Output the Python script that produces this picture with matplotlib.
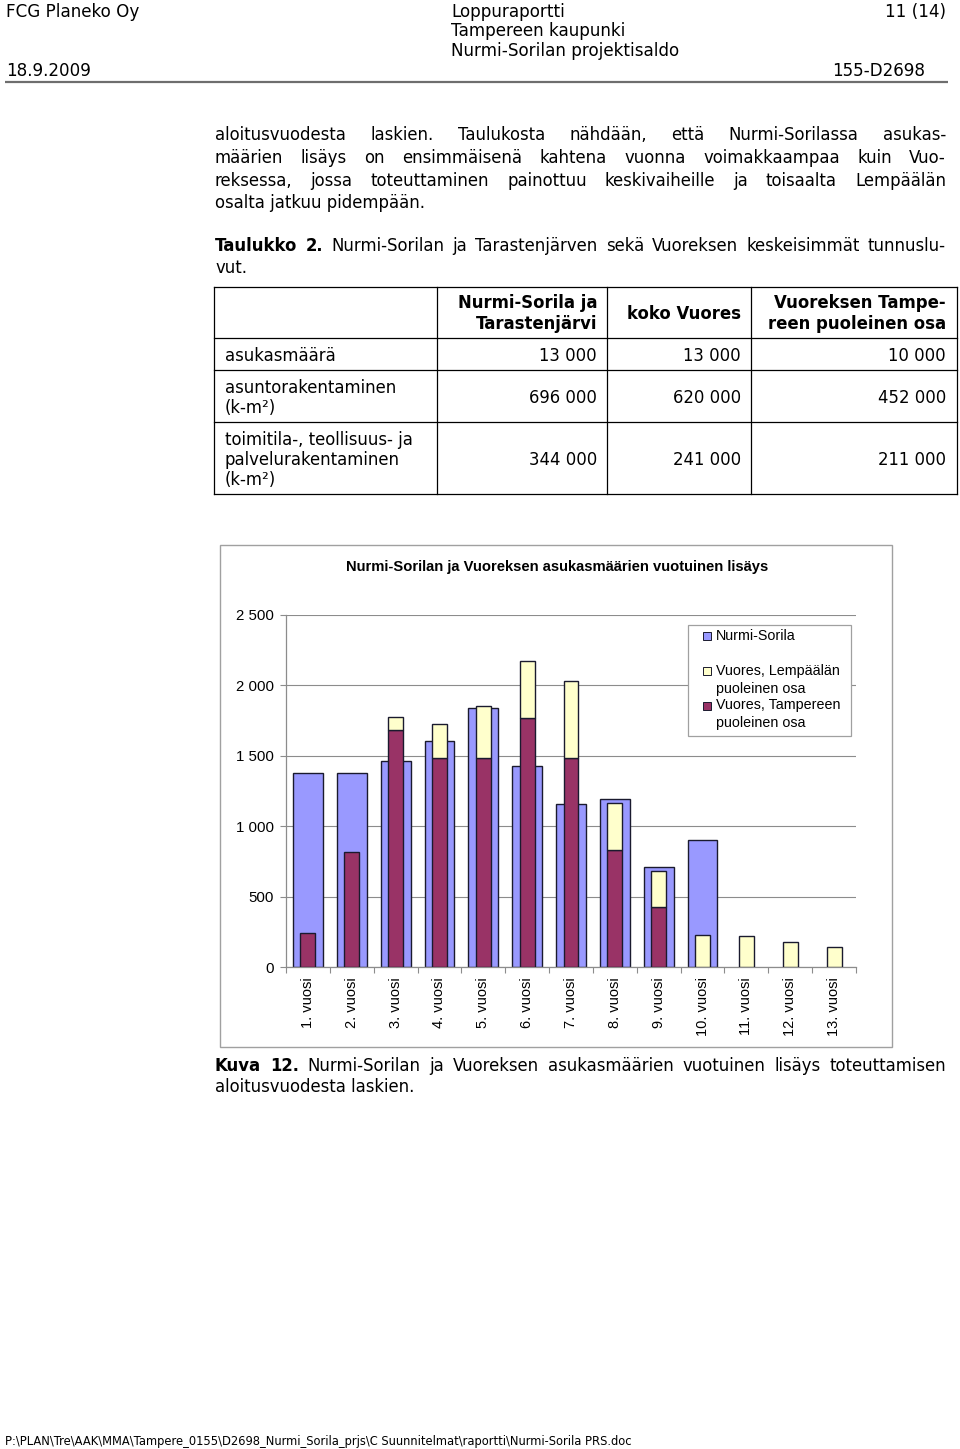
import matplotlib
matplotlib.use('Agg')
import matplotlib.pyplot as plt
import numpy as np
from matplotlib.patches import Rectangle
from matplotlib.ticker import FuncFormatter

# ---------------- data ----------------
years = ["1. vuosi", "2. vuosi", "3. vuosi", "4. vuosi", "5. vuosi", "6. vuosi", "7. vuosi",
         "8. vuosi", "9. vuosi", "10. vuosi", "11. vuosi", "12. vuosi", "13. vuosi"]
nurmi_sorila = [1375, 1375, 1460, 1605, 1835, 1425, 1160, 1195, 710, 900, 0, 0, 0]
vuores_tampere = [245, 820, 1680, 1485, 1485, 1770, 1485, 835, 425, 0, 0, 0, 0]
vuores_lempaala = [0, 0, 95, 240, 370, 400, 545, 330, 258, 230, 222, 182, 142]
series_labels = ["Nurmi-Sorila", "Vuores, Lempäälän\npuoleinen osa", "Vuores, Tampereen\npuoleinen osa"]
yticks = [0, 500, 1000, 1500, 2000, 2500]
chart_title = "Nurmi-Sorilan ja Vuoreksen asukasmäärien vuotuinen lisäys"

table_cols = ["Nurmi-Sorila ja\nTarastenjärvi", "koko Vuores", "Vuoreksen Tampe-\nreen puoleinen osa"]
table_rows = ["asukasmäärä", "asuntorakentaminen\n(k-m²)", "toimitila-, teollisuus- ja\npalvelurakentaminen\n(k-m²)"]
col_nurmi = ["13 000", "696 000", "344 000"]
col_vuores = ["13 000", "620 000", "241 000"]
col_vuores_tre = ["10 000", "452 000", "211 000"]

body_lines = [
    "aloitusvuodesta laskien. Taulukosta nähdään, että Nurmi-Sorilassa asukas-",
    "määrien lisäys on ensimmäisenä kahtena vuonna voimakkaampaa kuin Vuo-",
    "reksessa, jossa toteuttaminen painottuu keskivaiheille ja toisaalta Lempäälän",
    "osalta jatkuu pidempään.",
]

BLUE = "#9999FF"
MAROON = "#993366"
YELLOW = "#FFFFCC"
EDGE = "#1a1a2e"
GRID = "#8c8c8c"

W, H = 960, 1449
fig = plt.figure(figsize=(W / 100, H / 100), dpi=100)
page = fig.add_axes([0, 0, 1, 1])
page.set_xlim(0, W)
page.set_ylim(H, 0)
page.axis('off')
renderer = fig.canvas.get_renderer()

BODY = 11.9
FAM = "DejaVu Sans"
CH = "Liberation Sans"


def txt(x, y, s, size=BODY, weight='normal', ha='left', va='baseline', family=FAM, ax=None, **kw):
    a = page if ax is None else ax
    return a.text(x, y, s, fontsize=size, fontweight=weight, ha=ha, va=va, family=family, **kw)


def wid(t):
    return t.get_window_extent(renderer).width


def fit_size(s, target, weight='normal', family=FAM):
    t = page.text(0, 0, s, fontsize=10, fontweight=weight, family=family)
    w = wid(t)
    t.remove()
    return 10 * target / w


def justify(words, y, x0=215, x1=946, size=BODY):
    arts = [txt(0, y, w, size=size, weight=wt) for w, wt in words]
    ws = [wid(a) for a in arts]
    gap = (x1 - x0 - sum(ws)) / (len(arts) - 1)
    x = x0
    for a, w in zip(arts, ws):
        a.set_x(x)
        x += w + gap


# ---------------- header ----------------
hs = fit_size("Nurmi-Sorilan projektisaldo", 229)
txt(6, 17, "FCG Planeko Oy", size=hs)
txt(451, 17, "Loppuraportti", size=hs)
txt(451, 36.5, "Tampereen kaupunki", size=hs)
txt(451, 56, "Nurmi-Sorilan projektisaldo", size=hs)
txt(946, 17, "11 (14)", size=hs, ha='right')
txt(6, 76.5, "18.9.2009", size=hs)
txt(925, 76.5, "155-D2698", size=hs, ha='right')
page.plot([5, 948], [81.5, 81.5], color="#6e6e6e", lw=1.6, solid_capstyle='butt')

# ---------------- body text ----------------
base = [140.5, 163, 185.5]
for ln, y in zip(body_lines[:3], base):
    justify([(w, 'normal') for w in ln.split(' ')], y)
txt(215, 208, body_lines[3])

justify([("Taulukko", 'bold'), ("2.", 'bold')] +
        [(w, 'normal') for w in "Nurmi-Sorilan ja Tarastenjärven sekä Vuoreksen keskeisimmät tunnuslu-".split(' ')],
        251)
txt(215, 273, "vut.")

# ---------------- table ----------------
tx0, tx1 = 214, 957
ty = [287, 338, 370, 422, 494]
cx = [214, 437, 607, 751, 957]
lc = 'black'
for y in ty:
    page.plot([tx0, tx1], [y, y], color=lc, lw=0.9)
for x in cx:
    page.plot([x, x], [ty[0], ty[-1]], color=lc, lw=0.9)

rights = [597, 741, 946]
for r, head in zip(rights, table_cols):
    lines = head.split('\n')
    if len(lines) == 2:
        txt(r, 308, lines[0], weight='bold', ha='right')
        txt(r, 329, lines[1], weight='bold', ha='right')
    else:
        txt(r, 319, lines[0], weight='bold', ha='right')

label_base = [[361], [393, 413], [445, 465, 485]]
value_base = [361, 403, 465]
for lab, lbs in zip(table_rows, label_base):
    for part, yb in zip(lab.split('\n'), lbs):
        txt(225, yb, part)
for i, yb in enumerate(value_base):
    txt(rights[0], yb, col_nurmi[i], ha='right')
    txt(rights[1], yb, col_vuores[i], ha='right')
    txt(rights[2], yb, col_vuores_tre[i], ha='right')

# ---------------- chart frame ----------------
page.add_patch(Rectangle((220, 545), 672, 502, fill=False, edgecolor="#a0a0a0", lw=1.0))
ts = fit_size(chart_title, 423, weight='bold', family=CH)
txt(557, 567, chart_title, size=ts, weight='bold', ha='center', va='center', family=CH)

left, right, top, bottom = 286, 856, 614.7, 967.3
ax = fig.add_axes([left / W, 1 - bottom / H, (right - left) / W, (bottom - top) / H])
x = np.arange(1, len(years) + 1)
ns = np.array(nurmi_sorila, dtype=float)
vt = np.array(vuores_tampere, dtype=float)
vl = np.array(vuores_lempaala, dtype=float)
m = ns > 0
ax.bar(x[m], ns[m], width=0.68, color=BLUE, edgecolor=EDGE, lw=1.0, zorder=2)
m = vt > 0
ax.bar(x[m], vt[m], width=0.34, color=MAROON, edgecolor=EDGE, lw=1.0, zorder=3)
m = vl > 0
ax.bar(x[m], vl[m], width=0.34, bottom=vt[m], color=YELLOW, edgecolor=EDGE, lw=1.0, zorder=3)

ax.set_xlim(0.5, len(years) + 0.5)
ax.set_ylim(0, 2500)
ax.set_yticks(yticks)
ax.yaxis.set_major_formatter(FuncFormatter(lambda v, p: f"{int(v):,}".replace(",", " ")))
ax.set_xticks(np.arange(0.5, len(years) + 1, 1))
ax.set_xticklabels([])
ax.set_xticks(x, minor=True)
ax.set_xticklabels(years, minor=True, rotation=90, family=CH, fontsize=10.5)
ax.tick_params(axis='x', which='major', length=4, color=GRID, direction='out')
ax.tick_params(axis='x', which='minor', length=0, pad=7)
ax.tick_params(axis='y', length=4, color=GRID, pad=5, labelsize=10.8)
for lab in ax.get_yticklabels():
    lab.set_family(CH)
ax.yaxis.grid(True, color=GRID, lw=0.8)
ax.set_axisbelow(True)
for s in ['top', 'right']:
    ax.spines[s].set_visible(False)
for s in ['left', 'bottom']:
    ax.spines[s].set_color(GRID)
    ax.spines[s].set_linewidth(0.9)

# legend drawn on a transparent overlay (pixel coordinates) so it covers the gridlines
over = fig.add_axes([0, 0, 1, 1])
over.set_xlim(0, W)
over.set_ylim(H, 0)
over.axis('off')
over.patch.set_visible(False)
over.add_patch(Rectangle((688, 625), 163, 111, facecolor='white', edgecolor="#a0a0a0", lw=0.9))
leg_colors = [BLUE, YELLOW, MAROON]
leg_first = [635.5, 671, 705.5]
for col, lab, yy in zip(leg_colors, series_labels, leg_first):
    over.add_patch(Rectangle((703, yy - 4), 8, 8, facecolor=col, edgecolor=EDGE, lw=0.7))
    for k, part in enumerate(lab.split('\n')):
        txt(716, yy + k * 17.5, part, size=10.3, va='center', family=CH, ax=over)

# ---------------- caption ----------------
justify([("Kuva", 'bold'), ("12.", 'bold')] +
        [(w, 'normal') for w in "Nurmi-Sorilan ja Vuoreksen asukasmäärien vuotuinen lisäys toteuttamisen".split(' ')],
        1071)
txt(215, 1092, "aloitusvuodesta laskien.")

# ---------------- footer ----------------
foot = r"P:\PLAN\Tre\AAK\MMA\Tampere_0155\D2698_Nurmi_Sorila_prjs\C Suunnitelmat\raportti\Nurmi-Sorila PRS.doc"
fs = fit_size(foot, 629)
txt(5, 1445, foot, size=fs)

fig.savefig("out.png", dpi=100)
